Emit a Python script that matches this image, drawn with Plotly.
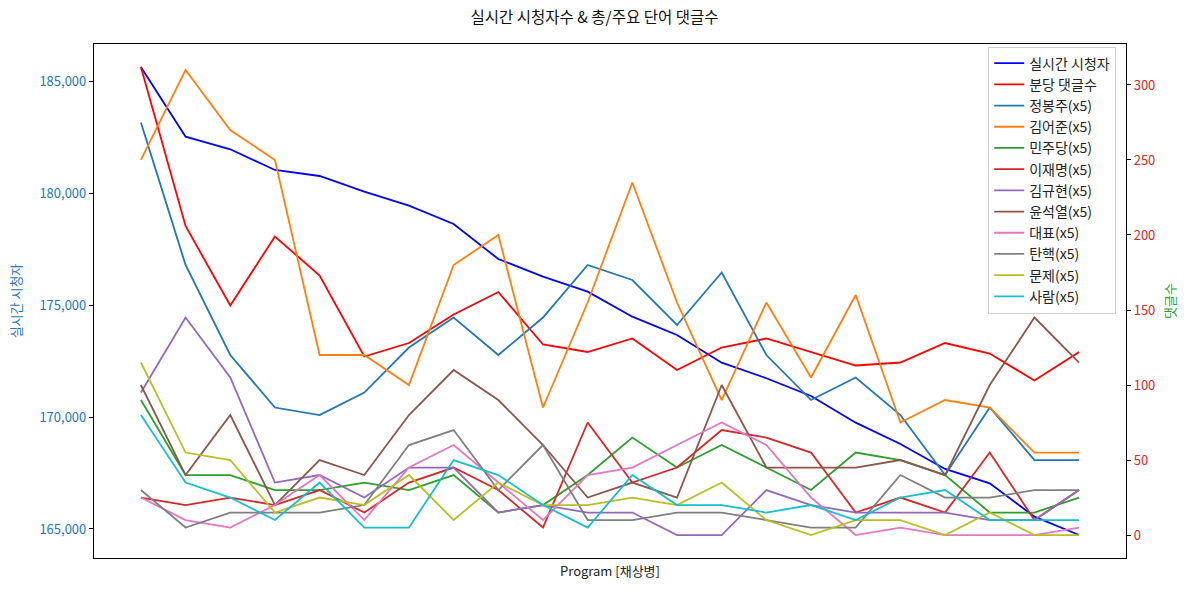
import plotly.graph_objects as go

# x positions (program minutes, tick labels hidden in the reference)
minutes = list(range(22))

viewers = [185625, 182513, 181951, 181027, 180759, 180058, 179433, 178616, 177054, 176264, 175594,
           174478, 173661, 172424, 171730, 170938, 169747, 168795, 167679, 167039, 165551, 164732]
comments_per_min = [312, 206, 153, 199, 173, 119, 128, 147, 162, 127, 122,
                    131, 110, 125, 131, 122, 113, 115, 128, 121, 103, 122]

jbj = [275, 180, 120, 85, 80, 95, 125, 145, 120, 145, 180, 170, 140, 175, 120, 90, 105, 80, 40, 85, 50, 50]
kej = [250, 310, 270, 250, 120, 120, 100, 180, 200, 85, 155, 235, 155, 90, 155, 105, 160, 75, 90, 85, 55, 55]
mjd = [90, 40, 40, 30, 30, 35, 30, 40, 15, 20, 40, 65, 45, 60, 45, 30, 55, 50, 40, 15, 15, 25]
ljm = [25, 20, 25, 20, 30, 15, 35, 45, 30, 5, 75, 35, 45, 70, 65, 55, 15, 25, 15, 55, 10, 30]
kgh = [95, 145, 105, 35, 40, 25, 45, 45, 15, 20, 15, 15, 0, 0, 30, 20, 15, 15, 15, 10, 10, 30]
ysy = [100, 40, 80, 20, 50, 40, 80, 110, 90, 60, 25, 35, 25, 100, 45, 45, 45, 50, 40, 100, 145, 115]
rep = [25, 10, 5, 20, 40, 10, 45, 60, 35, 10, 40, 45, 60, 75, 60, 25, 0, 5, 0, 0, 0, 5]
imp = [30, 5, 15, 15, 15, 20, 60, 70, 30, 60, 10, 10, 15, 15, 10, 5, 5, 40, 25, 25, 30, 30]
prob = [115, 55, 50, 15, 25, 20, 40, 10, 35, 20, 20, 25, 20, 35, 10, 0, 10, 10, 0, 15, 0, 0]
people = [80, 35, 25, 10, 35, 5, 5, 50, 40, 20, 5, 40, 20, 20, 15, 20, 10, 25, 30, 10, 10, 10]

word_series = [
    ("정봉주(x5)", jbj, "#1f77b4"),
    ("김어준(x5)", kej, "#ff7f0e"),
    ("민주당(x5)", mjd, "#2ca02c"),
    ("이재명(x5)", ljm, "#d62728"),
    ("김규현(x5)", kgh, "#9467bd"),
    ("윤석열(x5)", ysy, "#8c564b"),
    ("대표(x5)", rep, "#e377c2"),
    ("탄핵(x5)", imp, "#7f7f7f"),
    ("문제(x5)", prob, "#bcbd22"),
    ("사람(x5)", people, "#17becf"),
]

FONT = "Noto Sans CJK KR"
LW = 1.8

fig = go.Figure()
fig.add_trace(go.Scatter(x=minutes, y=viewers, mode="lines", name="실시간 시청자",
                         line=dict(color="#0000ff", width=LW), yaxis="y"))
fig.add_trace(go.Scatter(x=minutes, y=comments_per_min, mode="lines", name="분당 댓글수",
                         line=dict(color="#ff0000", width=LW), yaxis="y2"))
for name, vals, col in word_series:
    fig.add_trace(go.Scatter(x=minutes, y=vals, mode="lines", name=name,
                             line=dict(color=col, width=LW), yaxis="y2"))

fig.update_layout(
    width=1189, height=593,
    margin=dict(l=94, r=63, t=44, b=35),
    paper_bgcolor="white", plot_bgcolor="white",
    font=dict(family=FONT, size=13, color="#222"),
    title=dict(text="실시간 시청자수 & 총/주요 단어 댓글수", x=0.5, xref="container",
               y=1 - 18 / 593, yref="container", yanchor="middle", xanchor="center",
               font=dict(size=15.5, color="#111", family=FONT)),
    showlegend=True,
    legend=dict(x=0.8665, y=0.995, xanchor="left", yanchor="top",
                bgcolor="rgba(255,255,255,0.85)", bordercolor="#d0d0d0", borderwidth=1,
                font=dict(size=14, color="#222", family=FONT), itemwidth=30,
                tracegroupgap=0),
    xaxis=dict(range=[-1.05, 22.05], showticklabels=False, ticks="", showgrid=False,
               zeroline=False, showline=True, linecolor="black", linewidth=1.2, mirror=True,
               title=dict(text="Program [채상병]", standoff=8, font=dict(size=13, color="#222"))),
    yaxis=dict(range=[163705, 186652], tickvals=[165000, 170000, 175000, 180000, 185000],
               ticktext=["165,000", "170,000", "175,000", "180,000", "185,000"],
               ticks="outside", ticklen=4, tickcolor="black", showgrid=False, zeroline=False,
               showline=True, linecolor="black", linewidth=1.2,
               tickfont=dict(color="#1f77b4", size=13),
               title=dict(text="실시간 시청자", standoff=14, font=dict(color="#1f77b4", size=13))),
    yaxis2=dict(range=[-15.3, 327.3], tickvals=[0, 50, 100, 150, 200, 250, 300],
                overlaying="y", side="right", ticks="outside", ticklen=4, tickcolor="black",
                showgrid=False, zeroline=False, showline=True, linecolor="black", linewidth=1.2,
                tickfont=dict(color="#d62728", size=13),
                title=dict(text="댓글수", standoff=11, font=dict(color="#2ca02c", size=13))),
)

fig.write_html("out.html")
